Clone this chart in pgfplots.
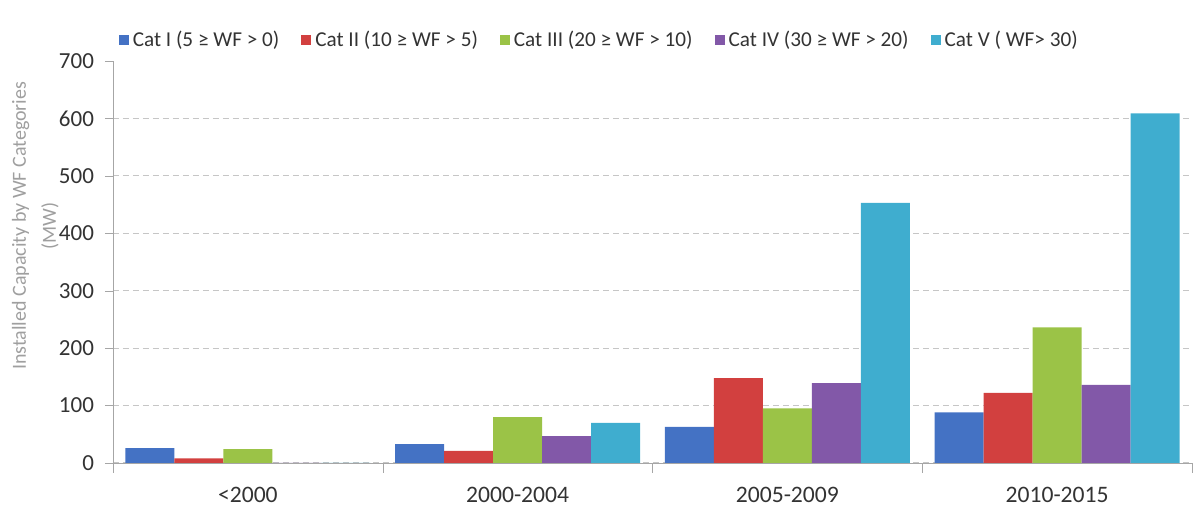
\documentclass[border=0pt]{standalone}
\usepackage{pgfplots}
\pgfplotsset{compat=1.18}
\usepackage{fontspec}
\setmainfont{Carlito}

\definecolor{catI}{HTML}{4472C4}
\definecolor{catII}{HTML}{D2403F}
\definecolor{catIII}{HTML}{9BC347}
\definecolor{catIV}{HTML}{8258A8}
\definecolor{catV}{HTML}{3FADCF}
\definecolor{txt}{HTML}{333333}
\definecolor{axgray}{HTML}{A6A6A6}

% installed capacity (MW) per period: 0=<2000, 1=2000-2004, 2=2005-2009, 3=2010-2015
\pgfplotstableread{
x  c1  c2   c3   c4   c5
0  26  8    24   0    0
1  33  21   80   47   70
2  63  148  95   139  453
3  88  122  236  136  609
}\capdata

\begin{document}
\begin{tikzpicture}
\useasboundingbox (-56.5pt,-22.5pt) rectangle (543.5pt,231.5pt);
\begin{axis}[
    scale only axis,
    width=539.5pt, height=201pt,
    ybar=0pt, bar width=24.5pt,
    xmin=-0.5, xmax=3.5,
    ymin=0, ymax=700,
    ytick={0,100,...,600},
    extra y ticks={700},
    extra y tick style={grid=none},
    ymajorgrids,
    major grid style={densely dashed, gray!45, line width=0.5pt},
    xtick={0,1,2,3},
    xticklabels={<2000,2000-2004,2005-2009,2010-2015},
    minor xtick={-0.5,0.5,1.5,2.5,3.5},
    major x tick style={draw=none},
    minor x tick style={axgray},
    minor tick length=5pt,
    major tick length=4pt,
    y tick style={axgray},
    tick align=outside,
    axis x line*=bottom,
    axis y line*=left,
    axis line style={-, axgray},
    /pgf/number format/assume math mode=true,
    yticklabel style={font=\fontsize{11.5}{13}\selectfont, text=txt, xshift=-2pt},
    xticklabel style={font=\fontsize{11.8}{13}\selectfont, text=txt, yshift=-4.5pt},
    ylabel={Installed Capacity by WF Categories\\(MW)},
    ylabel style={at={(rel axis cs:-0.072,0.59)}, anchor=center, align=center,
        font=\fontsize{10}{15}\selectfont, text=gray!75},
    legend columns=5,
    legend style={at={(rel axis cs:0.005,1.052)}, anchor=west, draw=none,
        inner sep=0pt, font=\fontsize{10.6}{12}\selectfont, text=txt,
        /tikz/every even column/.append style={column sep=9pt}},
    legend image code/.code={\fill[#1] (0pt,-2.5pt) rectangle (5pt,2.5pt);},
]
\addplot[fill=catI, draw=none] table[x=x, y=c1] {\capdata};
\addplot[fill=catII, draw=none] table[x=x, y=c2] {\capdata};
\addplot[fill=catIII, draw=none] table[x=x, y=c3] {\capdata};
\addplot[fill=catIV, draw=none] table[x=x, y=c4] {\capdata};
\addplot[fill=catV, draw=none] table[x=x, y=c5] {\capdata};
\legend{Cat I (5 ≥ WF > 0), Cat II (10 ≥ WF > 5), Cat III (20 ≥ WF > 10), Cat IV (30 ≥ WF > 20), Cat V ( WF> 30)}
\end{axis}
\end{tikzpicture}
\end{document}
